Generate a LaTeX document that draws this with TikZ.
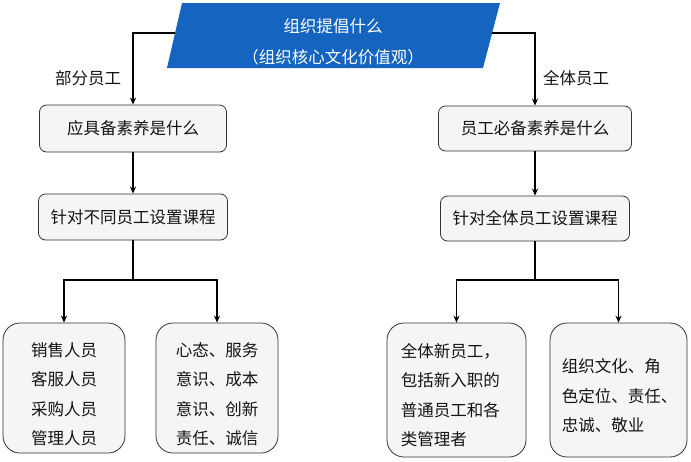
\documentclass[tikz,border=0pt]{standalone}
\usepackage{fontspec}
\setmainfont{Noto Sans CJK SC}
\usetikzlibrary{arrows.meta}
\definecolor{topblue}{RGB}{21,101,192}
\definecolor{boxfill}{RGB}{245,245,245}
\definecolor{ink}{RGB}{20,20,20}
\begin{document}
\begin{tikzpicture}[x=1pt,y=-1pt,
  box/.style={draw=black!80, line width=0.8pt, fill=boxfill, rounded corners=7pt, inner sep=0pt, text=ink, font=\fontsize{16.5}{20}\selectfont},
  bigbox/.style={draw=black!80, line width=0.8pt, fill=boxfill, rounded corners=17pt, inner sep=0pt},
  btext/.style={inner sep=0pt, text=ink, font=\fontsize{16.5}{29.5}\selectfont},
  conn/.style={line width=1.6pt, -{Stealth[length=7pt,width=6pt]}},
  plain/.style={line width=1.6pt},
  lbl/.style={text=ink, font=\fontsize{16.5}{20}\selectfont}]
\useasboundingbox (0,0) rectangle (691,461);
\fill[white] (0,0) rectangle (691,461);
% top parallelogram
\fill[topblue] (182,3) -- (500,3) -- (483,68) -- (167,68) -- cycle;
\node[text=white, align=center, font=\fontsize{16.5}{30.5}\selectfont] (top) at (333,42) {组织提倡什么\\（组织核心文化价值观）};
\coordinate (tl) at (175,33);
\coordinate (tr) at (492,33);
% second level
\node[box, minimum width=187pt, minimum height=47pt] (b1) at (133,128.5) {应具备素养是什么};
\node[box, minimum width=189pt, minimum height=46pt] (b2) at (133,217) {针对不同员工设置课程};
\node[box, minimum width=193pt, minimum height=45pt] (r1) at (535,128.5) {员工必备素养是什么};
\node[box, minimum width=189pt, minimum height=45pt] (r2) at (535,218.5) {针对全体员工设置课程};
\node[lbl] (lp) at (88,78) {部分员工};
\node[lbl] (rp) at (576,78) {全体员工};
% bottom boxes
\node[bigbox, minimum width=122pt, minimum height=130pt] (a) at (64,388) {};
\node[bigbox, minimum width=122pt, minimum height=130pt] (b) at (217,388) {};
\node[bigbox, minimum width=139pt, minimum height=134pt] (c) at (456.5,390) {};
\node[bigbox, minimum width=137pt, minimum height=134pt] (d) at (618.5,390) {};
\node[btext, align=center] (at) at ([yshift=-6pt]a.center) {销售人员\\客服人员\\采购人员\\管理人员};
\node[btext, align=center] (bt) at ([yshift=-6pt]b.center) {心态、服务\\意识、成本\\意识、创新\\责任、诚信};
\node[btext, align=left, anchor=west] (ct) at ([xshift=14pt,yshift=-5pt]c.west) {全体新员工，\\包括新入职的\\普通员工和各\\类管理者};
\node[btext, align=left, anchor=west] (dt) at ([xshift=12pt,yshift=-6pt]d.west) {组织文化、角\\色定位、责任、\\忠诚、敬业};
% connectors
\draw[conn] (tl) -| (b1);
\draw[conn] (tr) -| (r1);
\draw[conn] (b1) -- (b2);
\draw[conn] (r1) -- (r2);
\coordinate (j1) at (b2.south |- 0,280);
\coordinate (j2) at (r2.south |- 0,280);
\draw[plain] (b2.south) -- (j1);
\draw[plain] (r2.south) -- (j2);
\draw[conn] (j1) -| (a);
\draw[conn] (j1) -| (b);
\draw[conn] (j2) -| (c);
\draw[conn] (j2) -| (d);
\end{tikzpicture}
\end{document}
